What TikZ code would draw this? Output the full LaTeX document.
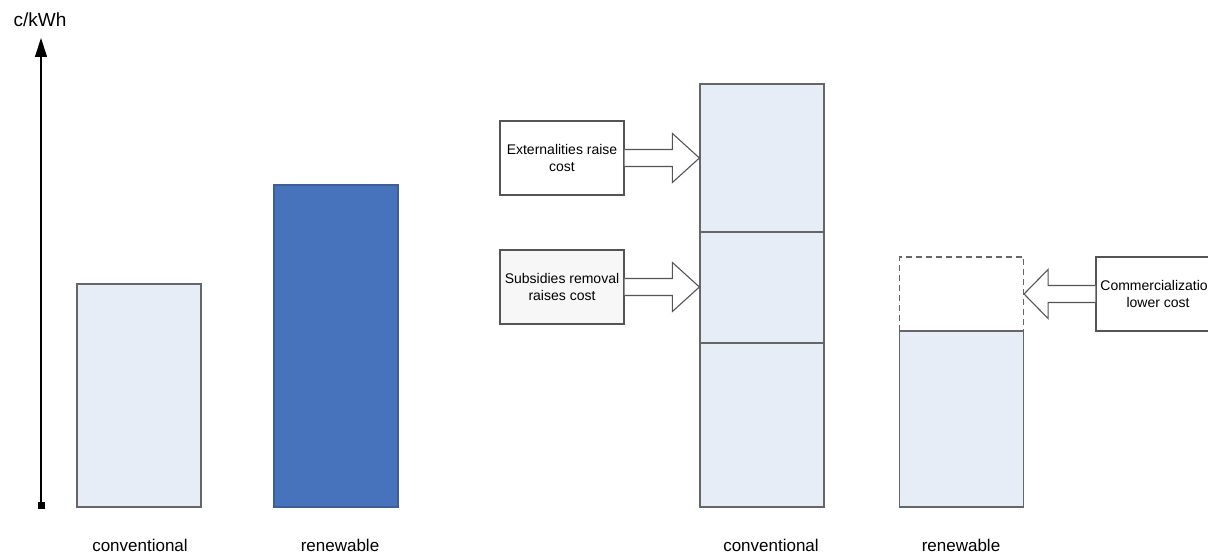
\documentclass[tikz,border=0pt]{standalone}
\usepackage{fontspec}
\setmainfont{Liberation Sans}
\usetikzlibrary{arrows.meta,calc}
\definecolor{paleblue}{HTML}{E7EDF7}
\definecolor{deepblue}{HTML}{4673BC}
\definecolor{deepedge}{HTML}{3D5F98}
\definecolor{edge}{HTML}{666666}
\definecolor{boxedge}{HTML}{555555}
\begin{document}
\begin{tikzpicture}[x=1pt,y=-1pt,
  bar/.style={draw=edge, line width=1.2pt, fill=paleblue, inner sep=0pt, minimum width=124pt},
  darkbar/.style={bar, draw=deepedge, fill=deepblue},
  ghostbar/.style={draw=edge, line width=1.1pt, dash pattern=on 6pt off 4pt, inner sep=0pt, minimum width=124pt},
  note/.style={draw=boxedge, line width=1.1pt, fill=white, inner sep=0pt, minimum width=124pt, minimum height=74pt,
    align=center, font=\fontsize{14pt}{17pt}\selectfont},
  blockarrow/.style={draw=boxedge, line width=1.1pt, fill=white, line join=miter},
  caption/.style={anchor=base, inner sep=0pt, font=\fontsize{17pt}{20pt}\selectfont},
]
\useasboundingbox (0,0) rectangle (1208,553);
\clip (0,0) rectangle (1208,553);

% cost axis
\coordinate (axbot) at (41,509);
\coordinate (axtop) at (41,38);
\draw[line width=1.3pt, {Square[length=7pt,width=7pt]}-{Triangle[length=19pt,width=12pt]}] (axbot) -- (axtop);
\node[inner sep=0pt, font=\fontsize{19pt}{22pt}\selectfont] (unit) at (40,20) {c/kWh};

% today's costs
\node[bar, minimum height=223pt] (conv) at (139,395.5) {};
\node[darkbar, minimum height=322pt] (renew) at (336,346) {};
\node[caption] (convlab) at (140,551) {conventional};
\node[caption] (renewlab) at (340,551) {renewable};

% adjusted conventional cost, stacked
\node[bar, minimum height=164pt] (cbot) at (762,425) {};
\node[bar, minimum height=111pt] (cmid) at (762,287.5) {};
\node[bar, minimum height=148pt] (ctop) at (762,158) {};
\node[caption] (conv2lab) at (771,551) {conventional};

% adjusted renewable cost
\node[bar, minimum height=176pt] (rbase) at (961.5,419) {};
\node[ghostbar, minimum height=74pt] (rdash) at (961.5,294) {};
\node[caption] (renew2lab) at (961,551) {renewable};

% driver notes
\node[note] (ext) at (562,158) {Externalities raise\\cost};
\node[note, fill=black!3] (sub) at (562,287) {Subsidies removal\\raises cost};
\node[note] (com) at (1158,294) {Commercialization\\lower cost};

% block arrows
\coordinate (t1) at (ext.east -| ctop.west);
\coordinate (t2) at (sub.east -| cmid.west);
\coordinate (t3) at (com.west -| rdash.east);
\draw[blockarrow] ($(ext.east)+(0,-8.5)$) -- ($(t1)+(-27,-8.5)$) -- ($(t1)+(-27,-24.5)$) -- (t1)
  -- ($(t1)+(-27,24.5)$) -- ($(t1)+(-27,8.5)$) -- ($(ext.east)+(0,8.5)$);
\draw[blockarrow] ($(sub.east)+(0,-8.5)$) -- ($(t2)+(-27,-8.5)$) -- ($(t2)+(-27,-24.5)$) -- (t2)
  -- ($(t2)+(-27,24.5)$) -- ($(t2)+(-27,8.5)$) -- ($(sub.east)+(0,8.5)$);
\draw[blockarrow] ($(com.west)+(0,-8.5)$) -- ($(t3)+(24,-8.5)$) -- ($(t3)+(24,-24.5)$) -- (t3)
  -- ($(t3)+(24,24.5)$) -- ($(t3)+(24,8.5)$) -- ($(com.west)+(0,8.5)$);
\end{tikzpicture}
\end{document}
